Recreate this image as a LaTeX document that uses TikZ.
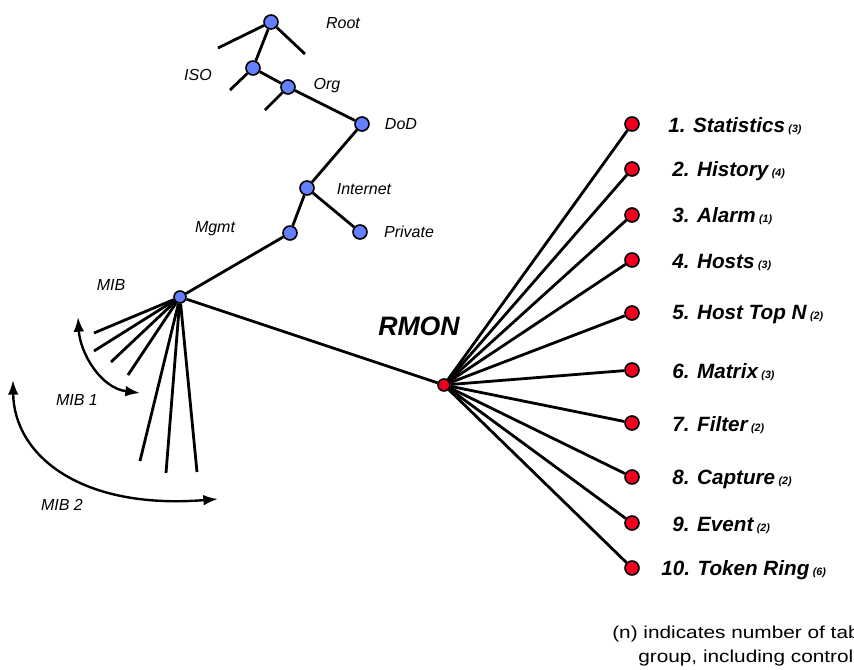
\documentclass[tikz,border=0pt]{standalone}
\usepackage{fontspec}
\setmainfont{Liberation Sans}
\newfontfamily\notefont[FakeStretch=1.2]{Liberation Sans}
\usetikzlibrary{arrows.meta}
\definecolor{nodeblue}{RGB}{98,128,255}
\definecolor{nodered}{RGB}{240,0,30}
\tikzset{
  bluedot/.style={circle,draw,line width=1.2pt,fill=nodeblue,inner sep=0pt,minimum size=10.5pt},
  reddot/.style={circle,draw,line width=1.2pt,fill=nodered,inner sep=0pt,minimum size=10.5pt},
  wire/.style={line width=2.1pt},
  treelabel/.style={font=\itshape\fontsize{12}{14}\selectfont},
  grouplabel/.style={anchor=west,inner sep=0pt,font=\bfseries\itshape\fontsize{15.5}{18}\selectfont},
  notelabel/.style={anchor=west,inner sep=0pt,font=\notefont\fontsize{13}{14}\selectfont},
  span/.style={line width=1.8pt,{Latex[length=11pt,width=8pt]}-{Latex[length=11pt,width=8pt]}}
}
\newcommand{\tabs}[1]{\,{\fontsize{8}{9}\selectfont(#1)}}
\begin{document}
\begin{tikzpicture}[x=0.75pt,y=0.75pt,yscale=-1,xscale=1]
\useasboundingbox (0,0) rectangle (854,669);

%Shape: Circle (tree nodes)
\node [bluedot] (root) at (271,22) {};
\node [bluedot] (iso) at (253,68) {};
\node [bluedot] (org) at (288,87) {};
\node [bluedot] (dod) at (362,124) {};
\node [bluedot] (internet) at (307,188) {};
\node [bluedot] (mgmt) at (290,233) {};
\node [bluedot] (private) at (360,232) {};
\node [bluedot,minimum size=9pt] (mib) at (180,297) {};
\node [reddot,minimum size=9pt] (rmon) at (444,385) {};

%Text labels of the tree
\node [treelabel] (rootlbl) at (343,23) {Root};
\node [treelabel] (isolbl) at (198,75) {ISO};
\node [treelabel] (orglbl) at (327,86) {Org};
\node [treelabel] (dodlbl) at (401,124) {DoD};
\node [treelabel] (internetlbl) at (364,189) {Internet};
\node [treelabel] (mgmtlbl) at (215,229) {Mgmt};
\node [treelabel] (privatelbl) at (409,232) {Private};
\node [treelabel] (miblbl) at (111,285) {MIB};
\node [treelabel] (mibonelbl) at (77,400) {MIB 1};
\node [treelabel] (mibtwolbl) at (62,505) {MIB 2};
\node [font=\bfseries\itshape\fontsize{20}{24}\selectfont] (rmonlbl) at (419,326) {RMON};

%Free ends of the side branches
\coordinate (rootl) at (218,48);
\coordinate (rootr) at (305,54);
\coordinate (isob) at (230,90);
\coordinate (orgb) at (265,110);

%Straight Lines
\draw [wire] (rootl) -- (root) -- (rootr);
\draw [wire] (root) -- (iso);
\draw [wire] (iso) -- (isob);
\draw [wire] (iso) -- (org);
\draw [wire] (org) -- (orgb);
\draw [wire] (org) -- (dod);
\draw [wire] (dod) -- (internet);
\draw [wire] (internet) -- (mgmt);
\draw [wire] (internet) -- (private);
\draw [wire] (mgmt) -- (mib);
\draw [wire] (mib) -- (rmon);

%Straight Lines (MIB fan)
\foreach \fx/\fy in {94/333, 94/351, 111/362, 128/375, 140/461, 166/473, 197/472}
  \draw [wire] (mib) -- (\fx,\fy);

%Curve Lines (MIB 1, MIB 2)
\draw [span] (78,317) .. controls (80,352) and (100,388) .. (140,393);
\draw [span] (13,380) .. controls (14,455) and (80,510) .. (218,499);

%Shape: Circle (RMON groups)
\node [reddot] (stats) at (632,124) {};
\node [reddot] (history) at (632,169) {};
\node [reddot] (alarm) at (632,215) {};
\node [reddot] (hosts) at (632,260) {};
\node [reddot] (topn) at (632,313) {};
\node [reddot] (matrix) at (632,370) {};
\node [reddot] (filter) at (632,423) {};
\node [reddot] (capture) at (632,477) {};
\node [reddot] (event) at (632,523) {};
\node [reddot] (token) at (632,568) {};

%Straight Lines (RMON groups)
\foreach \grp in {stats,history,alarm,hosts,topn,matrix,filter,capture,event,token}
  \draw [wire] (rmon) -- (\grp);

%Text labels of the groups
\node [grouplabel] (statslbl) at (668,126) {1. Statistics\tabs{3}};
\node [grouplabel] (historylbl) at (672,171) {2. History\tabs{4}};
\node [grouplabel] (alarmlbl) at (672,216) {3. Alarm\tabs{1}};
\node [grouplabel] (hostslbl) at (672,262) {4. Hosts\tabs{3}};
\node [grouplabel] (topnlbl) at (672,315) {5. Host Top N\tabs{2}};
\node [grouplabel] (matrixlbl) at (672,372) {6. Matrix\tabs{3}};
\node [grouplabel] (filterlbl) at (672,425) {7. Filter\tabs{2}};
\node [grouplabel] (capturelbl) at (672,479) {8. Capture\tabs{2}};
\node [grouplabel] (eventlbl) at (672,525) {9. Event\tabs{2}};
\node [grouplabel] (tokenlbl) at (661,570) {10. Token Ring\tabs{6}};

%Note
\node [notelabel] (note1) at (612,634) {(n) indicates number of tables in};
\node [notelabel] (note2) at (638,658) {group, including control tables};

\end{tikzpicture}
\end{document}
